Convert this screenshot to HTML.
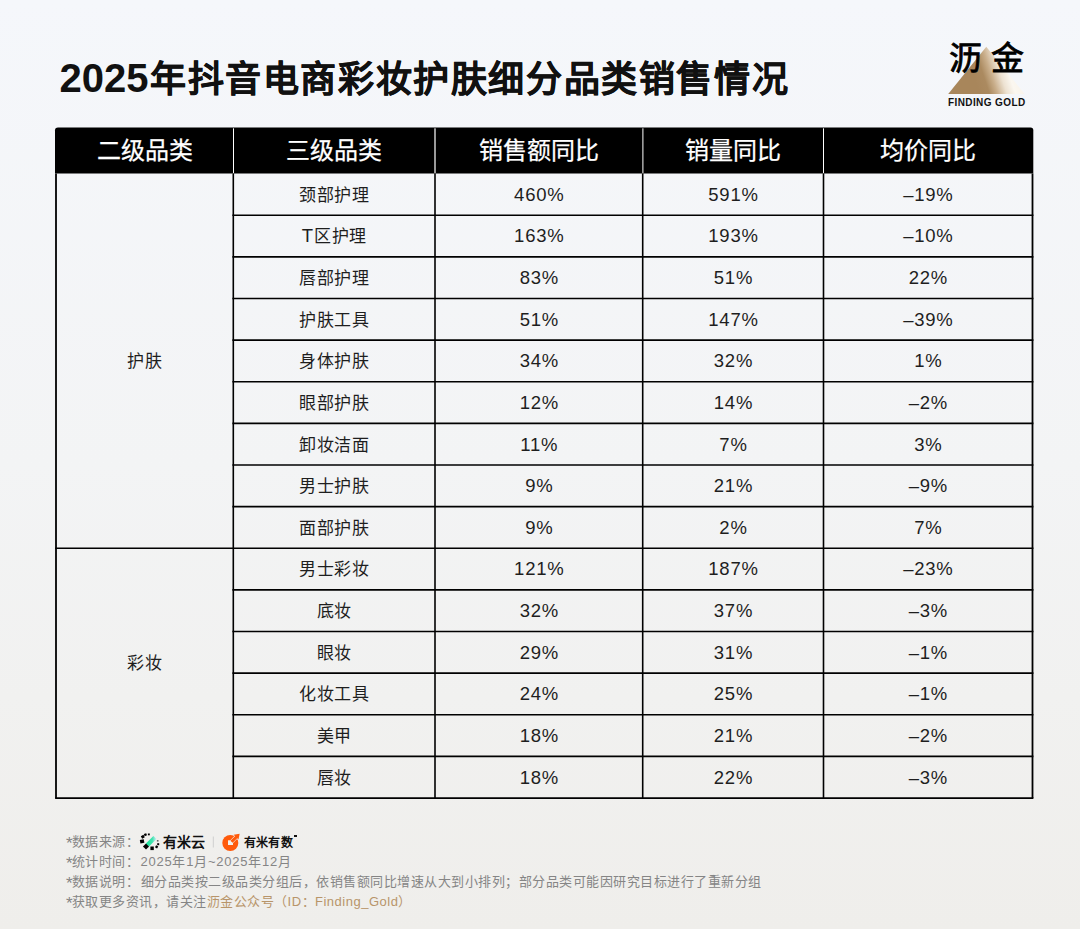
<!DOCTYPE html>
<html lang="zh-CN"><head><meta charset="utf-8">
<style>
*{margin:0;padding:0;box-sizing:border-box}
html,body{width:1080px;height:929px;overflow:hidden}
body{position:relative;font-family:"Liberation Sans",sans-serif;background:linear-gradient(180deg,#f5f7fb 0%,#f3f4f5 50%,#efeeeb 100%);color:#1c1c1c}
.title{position:absolute;left:59.5px;top:52.5px;font-weight:700;line-height:50px;white-space:nowrap;color:#111}
.title .dg{font-size:40px;letter-spacing:0}
.title .cj{font-size:36px;letter-spacing:1.6px;margin-left:1.5px;position:relative;top:0px;-webkit-text-stroke:0.35px #111}
#tbl,#logo,#flogo{position:absolute;left:0;top:0}
.t{position:absolute;white-space:nowrap;text-align:center;transform:translate(-50%,-50%);line-height:1}
.h{color:#fff;font-size:24px;font-weight:400;-webkit-text-stroke:0.25px #fff}
.c{font-size:18.5px;color:#1e1e1e;letter-spacing:0.75px;padding-left:0.75px;margin-top:0.4px}
.c .z{font-size:17px;letter-spacing:0.85px}
.foot{position:absolute;font-size:13px;letter-spacing:0.5px;color:#858585;white-space:nowrap;line-height:20px}
.gold{color:#b8956a}
.ast{font-size:17px;letter-spacing:-1.1px;position:relative;top:2.5px;line-height:0}
.lg{position:absolute;white-space:nowrap;line-height:1}
</style></head><body>
<div class="title"><span class="dg">2025</span><span class="cj">年抖音电商彩妆护肤细分品类销售情况</span></div>

<svg id="logo" width="1080" height="130" viewBox="0 0 1080 130">
<defs><linearGradient id="gg" x1="975" y1="80" x2="1020" y2="65" gradientUnits="userSpaceOnUse">
<stop offset="0" stop-color="#a8865b"/><stop offset="0.2" stop-color="#ab8a60"/><stop offset="0.36" stop-color="#c9ae8b"/><stop offset="0.55" stop-color="#ede2d2"/><stop offset="0.72" stop-color="#fbf7f0"/><stop offset="1" stop-color="#f8f2e8"/></linearGradient></defs>
<path d="M986.3 46.7L1024.6 94H948.2Z" fill="url(#gg)"/>
</svg>
<div class="lg" style="left:949px;top:42px;font-size:33px;letter-spacing:9px;color:#000;-webkit-text-stroke:0.8px #000">沥金</div>
<div class="lg" style="left:948px;top:98.3px;font-size:10px;font-weight:700;color:#111;letter-spacing:0.4px">FINDING GOLD</div>

<svg id="tbl" width="1080" height="929" viewBox="0 0 1080 929">
<path d="M55 130.3Q55 127.50000000000001 58 127.50000000000001H1030.5Q1033.3 127.50000000000001 1033.3 130.3V173.6H55Z" fill="#000"/>
<rect x="233" y="128.3" width="1" height="44.69999999999998" fill="#fff"/>
<rect x="434.4" y="128.3" width="1.2" height="44.69999999999998" fill="#fff"/>
<rect x="642.4" y="128.3" width="1" height="44.69999999999998" fill="#fff"/>
<rect x="823" y="128.3" width="1" height="44.69999999999998" fill="#fff"/>
<line x1="56" y1="173.6" x2="56" y2="798.0500000000001" stroke="#000" stroke-width="1.8"/>
<line x1="233.3" y1="173.6" x2="233.3" y2="798.0500000000001" stroke="#000" stroke-width="1.6"/>
<line x1="435.0" y1="173.6" x2="435.0" y2="798.0500000000001" stroke="#000" stroke-width="1.6"/>
<line x1="642.7" y1="173.6" x2="642.7" y2="798.0500000000001" stroke="#000" stroke-width="1.6"/>
<line x1="823.5" y1="173.6" x2="823.5" y2="798.0500000000001" stroke="#000" stroke-width="1.6"/>
<line x1="1032.5" y1="173.6" x2="1032.5" y2="798.0500000000001" stroke="#000" stroke-width="1.8"/>
<line x1="232.4" y1="215.23" x2="1033.4" y2="215.23" stroke="#000" stroke-width="1.6"/>
<line x1="232.4" y1="256.86" x2="1033.4" y2="256.86" stroke="#000" stroke-width="1.6"/>
<line x1="232.4" y1="298.49" x2="1033.4" y2="298.49" stroke="#000" stroke-width="1.6"/>
<line x1="232.4" y1="340.12" x2="1033.4" y2="340.12" stroke="#000" stroke-width="1.6"/>
<line x1="232.4" y1="381.75" x2="1033.4" y2="381.75" stroke="#000" stroke-width="1.6"/>
<line x1="232.4" y1="423.38" x2="1033.4" y2="423.38" stroke="#000" stroke-width="1.6"/>
<line x1="232.4" y1="465.01" x2="1033.4" y2="465.01" stroke="#000" stroke-width="1.6"/>
<line x1="232.4" y1="506.64" x2="1033.4" y2="506.64" stroke="#000" stroke-width="1.6"/>
<line x1="55.1" y1="548.27" x2="1033.4" y2="548.27" stroke="#000" stroke-width="1.6"/>
<line x1="232.4" y1="589.90" x2="1033.4" y2="589.90" stroke="#000" stroke-width="1.6"/>
<line x1="232.4" y1="631.53" x2="1033.4" y2="631.53" stroke="#000" stroke-width="1.6"/>
<line x1="232.4" y1="673.16" x2="1033.4" y2="673.16" stroke="#000" stroke-width="1.6"/>
<line x1="232.4" y1="714.79" x2="1033.4" y2="714.79" stroke="#000" stroke-width="1.6"/>
<line x1="232.4" y1="756.42" x2="1033.4" y2="756.42" stroke="#000" stroke-width="1.6"/>
<line x1="55.1" y1="798.05" x2="1033.4" y2="798.05" stroke="#000" stroke-width="1.8"/>
</svg>
<div class="t h" style="left:144.7px;top:150.9px">二级品类</div>
<div class="t h" style="left:334.1px;top:150.9px">三级品类</div>
<div class="t h" style="left:538.9px;top:150.9px">销售额同比</div>
<div class="t h" style="left:733.1px;top:150.9px">销量同比</div>
<div class="t h" style="left:928.0px;top:150.9px">均价同比</div>
<div class="t c" style="left:334.1px;top:194.4px"><span class="z">颈部护理</span></div>
<div class="t c" style="left:538.9px;top:194.4px">460%</div>
<div class="t c" style="left:733.1px;top:194.4px">591%</div>
<div class="t c" style="left:928.0px;top:194.4px">–19%</div>
<div class="t c" style="left:334.1px;top:236.0px">T<span class="z">区护理</span></div>
<div class="t c" style="left:538.9px;top:236.0px">163%</div>
<div class="t c" style="left:733.1px;top:236.0px">193%</div>
<div class="t c" style="left:928.0px;top:236.0px">–10%</div>
<div class="t c" style="left:334.1px;top:277.7px"><span class="z">唇部护理</span></div>
<div class="t c" style="left:538.9px;top:277.7px">83%</div>
<div class="t c" style="left:733.1px;top:277.7px">51%</div>
<div class="t c" style="left:928.0px;top:277.7px">22%</div>
<div class="t c" style="left:334.1px;top:319.3px"><span class="z">护肤工具</span></div>
<div class="t c" style="left:538.9px;top:319.3px">51%</div>
<div class="t c" style="left:733.1px;top:319.3px">147%</div>
<div class="t c" style="left:928.0px;top:319.3px">–39%</div>
<div class="t c" style="left:334.1px;top:360.9px"><span class="z">身体护肤</span></div>
<div class="t c" style="left:538.9px;top:360.9px">34%</div>
<div class="t c" style="left:733.1px;top:360.9px">32%</div>
<div class="t c" style="left:928.0px;top:360.9px">1%</div>
<div class="t c" style="left:334.1px;top:402.6px"><span class="z">眼部护肤</span></div>
<div class="t c" style="left:538.9px;top:402.6px">12%</div>
<div class="t c" style="left:733.1px;top:402.6px">14%</div>
<div class="t c" style="left:928.0px;top:402.6px">–2%</div>
<div class="t c" style="left:334.1px;top:444.2px"><span class="z">卸妆洁面</span></div>
<div class="t c" style="left:538.9px;top:444.2px">11%</div>
<div class="t c" style="left:733.1px;top:444.2px">7%</div>
<div class="t c" style="left:928.0px;top:444.2px">3%</div>
<div class="t c" style="left:334.1px;top:485.8px"><span class="z">男士护肤</span></div>
<div class="t c" style="left:538.9px;top:485.8px">9%</div>
<div class="t c" style="left:733.1px;top:485.8px">21%</div>
<div class="t c" style="left:928.0px;top:485.8px">–9%</div>
<div class="t c" style="left:334.1px;top:527.5px"><span class="z">面部护肤</span></div>
<div class="t c" style="left:538.9px;top:527.5px">9%</div>
<div class="t c" style="left:733.1px;top:527.5px">2%</div>
<div class="t c" style="left:928.0px;top:527.5px">7%</div>
<div class="t c" style="left:334.1px;top:569.1px"><span class="z">男士彩妆</span></div>
<div class="t c" style="left:538.9px;top:569.1px">121%</div>
<div class="t c" style="left:733.1px;top:569.1px">187%</div>
<div class="t c" style="left:928.0px;top:569.1px">–23%</div>
<div class="t c" style="left:334.1px;top:610.7px"><span class="z">底妆</span></div>
<div class="t c" style="left:538.9px;top:610.7px">32%</div>
<div class="t c" style="left:733.1px;top:610.7px">37%</div>
<div class="t c" style="left:928.0px;top:610.7px">–3%</div>
<div class="t c" style="left:334.1px;top:652.3px"><span class="z">眼妆</span></div>
<div class="t c" style="left:538.9px;top:652.3px">29%</div>
<div class="t c" style="left:733.1px;top:652.3px">31%</div>
<div class="t c" style="left:928.0px;top:652.3px">–1%</div>
<div class="t c" style="left:334.1px;top:694.0px"><span class="z">化妆工具</span></div>
<div class="t c" style="left:538.9px;top:694.0px">24%</div>
<div class="t c" style="left:733.1px;top:694.0px">25%</div>
<div class="t c" style="left:928.0px;top:694.0px">–1%</div>
<div class="t c" style="left:334.1px;top:735.6px"><span class="z">美甲</span></div>
<div class="t c" style="left:538.9px;top:735.6px">18%</div>
<div class="t c" style="left:733.1px;top:735.6px">21%</div>
<div class="t c" style="left:928.0px;top:735.6px">–2%</div>
<div class="t c" style="left:334.1px;top:777.2px"><span class="z">唇妆</span></div>
<div class="t c" style="left:538.9px;top:777.2px">18%</div>
<div class="t c" style="left:733.1px;top:777.2px">22%</div>
<div class="t c" style="left:928.0px;top:777.2px">–3%</div>
<div class="t c" style="left:144.7px;top:360.4px"><span class="z">护肤</span></div>
<div class="t c" style="left:144.7px;top:662.5px"><span class="z">彩妆</span></div>

<div class="foot" style="left:66px;top:832px"><span class="ast">*</span>数据来源：</div>
<div class="foot" style="left:66px;top:852px"><span class="ast">*</span>统计时间：</div>
<div class="foot" style="left:140.5px;top:852px;letter-spacing:0.75px">2025年1月~2025年12月</div>
<div class="foot" style="left:66px;top:872px"><span class="ast">*</span>数据说明：</div>
<div class="foot" style="left:140.5px;top:872px">细分品类按二级品类分组后，依销售额同比增速从大到小排列；部分品类可能因研究目标进行了重新分组</div>
<div class="foot" style="left:66px;top:892px"><span class="ast">*</span>获取更多资讯，请关注<span class="gold">沥金公众号（ID：Finding_Gold）</span></div>

<svg id="flogo" width="1080" height="929" viewBox="0 0 1080 929">
<g fill="#000">
<rect x="141.3" y="835.4" width="3" height="2.8" transform="rotate(-30 142.8 836.8)"/>
<rect x="144.2" y="833.5" width="2.5" height="2.3" transform="rotate(-20 145.4 834.7)"/>
<rect x="147.9" y="833.5" width="1.9" height="1.8"/>
<rect x="140.1" y="839.5" width="4" height="3.6" transform="rotate(-10 142.1 841.4)"/>
<rect x="150.4" y="846.5" width="3.4" height="3.6"/>
<rect x="155.4" y="845.7" width="2.4" height="2.4" transform="rotate(30 156.6 846.9)"/>
<rect x="157.2" y="843.2" width="2" height="2"/>
<rect x="156.9" y="840" width="1.6" height="1.6" fill="#666"/>
</g>
<defs><linearGradient id="grn" x1="147.5" y1="845" x2="155" y2="837.5" gradientUnits="userSpaceOnUse"><stop offset="0" stop-color="#17e59a"/><stop offset="0.6" stop-color="#3fe3ad"/><stop offset="1" stop-color="#cfeefa"/></linearGradient></defs>
<rect x="149" y="835.9" width="4.4" height="10.6" fill="url(#grn)" transform="rotate(45 151.2 841.2)"/>
<rect x="143.9" y="844.3" width="4.3" height="4.3" fill="#000" transform="rotate(45 146 846.4)"/>
<rect x="212.8" y="836.5" width="1" height="11" fill="#cfcfcf"/>
<circle cx="230.3" cy="843" r="8" fill="#ff5a0b"/>
<rect x="228" y="840.3" width="5" height="4.7" fill="#f1f0ed"/>
<path d="M0 -1.5H6.5V-3.4L11.5 0L6.5 3.4V1.5H0Z" fill="#ff5a0b" stroke="#f1f0ed" stroke-width="1" paint-order="stroke" stroke-linejoin="miter" transform="translate(231.5 841.8) rotate(-45)"/>
</svg>
<div class="lg" style="left:163px;top:835px;font-size:14px;font-weight:700;color:#111">有米云</div>
<div class="lg" style="left:244px;top:836.5px;font-size:12px;font-weight:700;color:#111;letter-spacing:0.2px">有米有数</div>
<div style="position:absolute;left:294.2px;top:834.8px;width:2.6px;height:2.6px;background:#111"></div>
</body></html>
